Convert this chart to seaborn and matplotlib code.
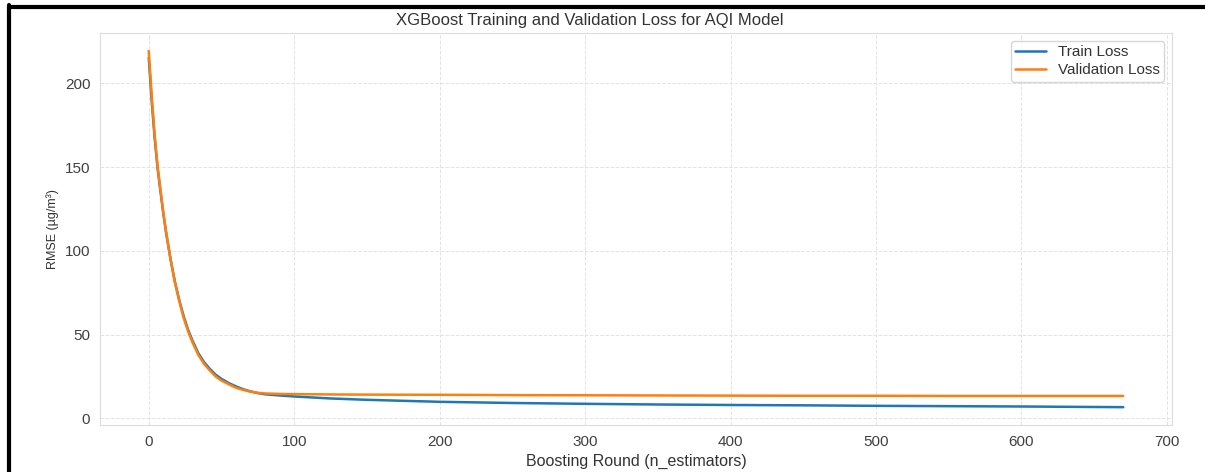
import matplotlib
matplotlib.use('Agg')
import matplotlib.pyplot as plt
from matplotlib.lines import Line2D
import seaborn as sns
import pandas as pd

# Loss curves
val_rounds = [0, 2, 4, 6, 8, 10, 12, 15, 18, 21, 24, 27, 30, 34, 38, 42, 46, 50, 55, 60, 65, 70, 75, 80,
              90, 100, 125, 150, 200, 250, 300, 350, 400, 450, 500, 550, 600, 670]
val_loss = [219.5, 193, 170, 151, 137, 123, 111, 95, 81, 70, 60, 52, 45.5, 38, 32.5, 28.5, 25, 22.5, 20.3,
            18.2, 16.9, 15.9, 15.2, 14.8, 14.5, 14.4, 14.2, 14.1, 14.0, 13.8, 13.7, 13.6, 13.5, 13.4, 13.4,
            13.3, 13.3, 13.3]

train_rounds = [0, 2, 4, 6, 8, 10, 12, 15, 18, 21, 24, 27, 30, 34, 38, 42, 46, 50, 55, 60, 65, 70, 75, 80,
                90, 100, 125, 150, 200, 250, 300, 350, 400, 450, 500, 550, 600, 670]
train_loss = [215.5, 190, 168, 150, 136, 122.5, 110.5, 95, 81.5, 70.5, 61, 53, 46.5, 39, 33.5, 29.5, 26,
              23.5, 21, 19, 17.3, 16, 15, 14.3, 13.6, 13.0, 11.8, 11.0, 9.8, 9.1, 8.6, 8.2, 7.9, 7.7, 7.4,
              7.2, 7.0, 6.6]

sns.set_style('whitegrid', {'grid.linestyle': '--', 'grid.color': '#e3e3e3', 'axes.edgecolor': '#dcdcdc',
                            'text.color': '.2', 'axes.labelcolor': '.2',
                            'xtick.color': '.25', 'ytick.color': '.25'})
plt.rcParams['font.family'] = ['Liberation Sans', 'DejaVu Sans']
plt.rcParams['grid.linewidth'] = 0.7

fig = plt.figure(figsize=(12.05, 4.72), dpi=100)
ax = fig.add_axes([0.083, 0.0996, 0.8896, 0.8304])

train_df = pd.DataFrame({'round': train_rounds, 'rmse': train_loss})
val_df = pd.DataFrame({'round': val_rounds, 'rmse': val_loss})
sns.lineplot(data=train_df, x='round', y='rmse', ax=ax, label='Train Loss', color='tab:blue', linewidth=1.8)
sns.lineplot(data=val_df, x='round', y='rmse', ax=ax, label='Validation Loss', color='tab:orange', linewidth=1.8)

ax.set_title('XGBoost Training and Validation Loss for AQI Model', fontsize=12, pad=6, x=0.457)
ax.set_xlabel('Boosting Round (n_estimators)', fontsize=11.5)
ax.set_ylabel('RMSE (µg/m³)', fontsize=9)
ax.set_xticks([0, 100, 200, 300, 400, 500, 600, 700])
ax.set_yticks([0, 50, 100, 150, 200])
ax.tick_params(labelsize=11)
ax.legend(loc='upper right', fontsize=11, labelspacing=0.25, borderpad=0.3)

# black border from the screenshot
fig.add_artist(Line2D([0.0075, 0.0075], [0, 0.99], color='black', linewidth=3, transform=fig.transFigure))
fig.add_artist(Line2D([0.0075, 1], [0.986, 0.986], color='black', linewidth=3, transform=fig.transFigure))

plt.savefig('out.png', dpi=100)
